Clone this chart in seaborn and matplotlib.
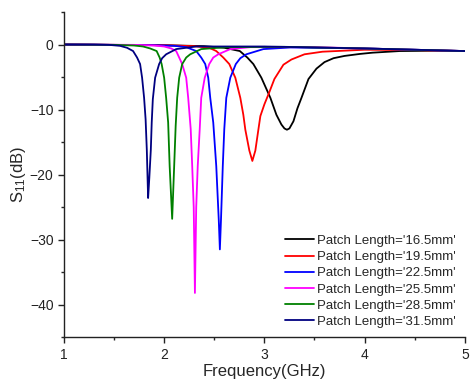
import numpy as np
import pandas as pd
import matplotlib
matplotlib.use("Agg")
import matplotlib.pyplot as plt
import seaborn as sns
from matplotlib.ticker import MultipleLocator

labels = ["Patch Length='16.5mm'", "Patch Length='19.5mm'", "Patch Length='22.5mm'",
          "Patch Length='25.5mm'", "Patch Length='28.5mm'", "Patch Length='31.5mm'"]
colors = ["#000000", "#ff0000", "#0000ff", "#ff00ff", "#008000", "#000080"]

f_165 = [1.0, 2.0, 2.4, 2.6, 2.755, 2.83, 2.89, 2.97, 3.06, 3.12, 3.17, 3.20, 3.225, 3.25, 3.29, 3.33, 3.37, 3.44, 3.52, 3.60, 3.69, 3.80, 3.95, 4.08, 4.35, 4.7, 5.0]
s_165 = [0.0, -0.1, -0.25, -0.5, -1.0, -2.0, -3.0, -5.1, -8.2, -10.8, -12.3, -12.9, -13.1, -12.9, -11.8, -9.8, -8.2, -5.3, -3.7, -2.7, -2.1, -1.75, -1.45, -1.25, -1.0, -0.95, -1.0]

f_195 = [1.0, 2.0, 2.3, 2.45, 2.52, 2.59, 2.65, 2.71, 2.76, 2.79, 2.81, 2.85, 2.88, 2.91, 2.94, 2.96, 3.0, 3.05, 3.10, 3.19, 3.27, 3.4, 3.58, 4.0, 4.5, 5.0]
s_195 = [0.0, -0.1, -0.25, -0.5, -1.0, -2.0, -3.0, -5.1, -8.2, -10.8, -13.1, -16.3, -17.9, -16.3, -13.1, -11.0, -9.2, -7.3, -5.3, -3.1, -2.3, -1.5, -1.1, -0.8, -0.85, -1.0]

f_225 = [1.0, 1.9, 2.1, 2.22, 2.32, 2.37, 2.41, 2.44, 2.46, 2.49, 2.52, 2.545, 2.556, 2.567, 2.585, 2.60, 2.62, 2.66, 2.715, 2.76, 2.82, 2.99, 3.26, 4.0, 5.0]
s_225 = [0.0, -0.1, -0.2, -0.4, -1.0, -2.0, -3.0, -5.1, -8.2, -12.0, -18.7, -27.0, -31.5, -27.0, -18.7, -13.0, -8.2, -5.1, -3.0, -2.1, -1.5, -0.7, -0.45, -0.6, -1.0]

f_255 = [1.0, 1.7, 1.9, 2.0, 2.07, 2.12, 2.15, 2.18, 2.22, 2.24, 2.265, 2.28, 2.295, 2.307, 2.32, 2.335, 2.355, 2.37, 2.405, 2.45, 2.49, 2.54, 2.66, 2.86, 3.5, 4.0, 5.0]
s_255 = [0.0, -0.05, -0.15, -0.3, -0.6, -1.0, -2.0, -3.0, -5.1, -8.2, -13.0, -18.7, -25.0, -38.2, -25.0, -18.7, -13.0, -8.2, -5.1, -3.0, -2.0, -1.5, -0.7, -0.4, -0.4, -0.6, -1.0]

f_285 = [1.0, 1.5, 1.70, 1.79, 1.86, 1.925, 1.955, 1.975, 2.00, 2.02, 2.04, 2.055, 2.08, 2.10, 2.115, 2.13, 2.15, 2.18, 2.22, 2.26, 2.37, 2.62, 3.2, 4.0, 5.0]
s_285 = [0.0, -0.05, -0.15, -0.3, -0.6, -1.0, -2.0, -3.0, -5.1, -8.2, -12.0, -18.7, -26.8, -18.7, -12.5, -8.2, -5.1, -3.0, -2.0, -1.5, -0.7, -0.4, -0.35, -0.6, -1.0]

f_315 = [1.0, 1.3, 1.45, 1.56, 1.63, 1.69, 1.73, 1.76, 1.78, 1.80, 1.815, 1.827, 1.84, 1.852, 1.867, 1.876, 1.887, 1.91, 1.95, 1.98, 2.02, 2.12, 2.32, 3.0, 4.0, 5.0]
s_315 = [0.0, 0.0, -0.05, -0.2, -0.5, -1.0, -2.0, -3.0, -5.1, -8.2, -11.5, -16.2, -23.6, -20.5, -16.2, -12.0, -8.4, -5.1, -3.0, -2.1, -1.5, -0.7, -0.3, -0.3, -0.6, -1.0]

freqs = [f_165, f_195, f_225, f_255, f_285, f_315]
s11s = [s_165, s_195, s_225, s_255, s_285, s_315]

frames = []
for lab, f, s in zip(labels, freqs, s11s):
    frames.append(pd.DataFrame({"f": f, "s": s, "series": lab}))
df = pd.concat(frames, ignore_index=True)

sns.set_style("white")
plt.rcParams["font.family"] = ["Liberation Sans", "DejaVu Sans"]
plt.rcParams["mathtext.fontset"] = "custom"
plt.rcParams["mathtext.rm"] = "Liberation Sans"
plt.rcParams["mathtext.it"] = "Liberation Sans"

fig = plt.figure(figsize=(4.7, 3.88), dpi=100)
ax = fig.add_axes([0.136, 0.131, 0.853, 0.838])

sns.lineplot(data=df, x="f", y="s", hue="series", hue_order=labels,
             palette=dict(zip(labels, colors)), estimator=None, sort=False,
             linewidth=1.3, ax=ax)

ax.set_xlim(1, 5)
ax.set_ylim(-45, 5)
ax.xaxis.set_major_locator(MultipleLocator(1))
ax.xaxis.set_minor_locator(MultipleLocator(0.5))
ax.yaxis.set_major_locator(MultipleLocator(10))
ax.yaxis.set_minor_locator(MultipleLocator(5))
ax.tick_params(which="major", direction="out", length=4, width=1, labelsize=10,
               bottom=True, left=True, colors="#222222")
ax.tick_params(which="minor", direction="out", length=2.5, width=1,
               bottom=True, left=True)
for side in ["top", "right"]:
    ax.spines[side].set_visible(False)
for side in ["left", "bottom"]:
    ax.spines[side].set_color("#222222")
    ax.spines[side].set_linewidth(1.0)

ax.set_xlabel("Frequency(GHz)", fontsize=12, labelpad=2)
ax.set_ylabel("S$_{11}$(dB)", fontsize=12, labelpad=1)

handles, labs = ax.get_legend_handles_labels()
ax.legend(handles, labs, loc="lower right", bbox_to_anchor=(1.0, 0.0),
          frameon=False, fontsize=9.5, handlelength=2.2, handletextpad=0.25,
          labelspacing=0.3, borderaxespad=0.3)

fig.savefig("out.png", dpi=100)
